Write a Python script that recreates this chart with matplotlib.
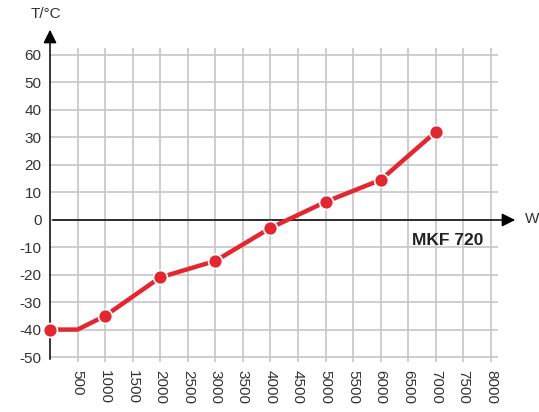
import matplotlib
matplotlib.use('Agg')
import matplotlib.pyplot as plt
import numpy as np

# power (W) vs temperature (°C)
power = [0, 500, 1000, 2000, 3000, 4000, 5000, 6000, 7000]
temp = [-40, -40, -35, -21, -15, -3, 6.5, 14.5, 32]
marked = [True, False, True, True, True, True, True, True, True]
xticks = list(range(500, 8001, 500))
yticks = list(range(-50, 61, 10))
model = 'MKF 720'

plt.rcParams['font.family'] = ['Liberation Sans', 'DejaVu Sans']
red = '#e3262f'
grey = '#c6c6c6'
txt = '#333333'

fig = plt.figure(figsize=(5.39, 4.12), dpi=100)
ax = fig.add_axes([50 / 539, 50 / 412, 448 / 539, 314 / 412])
ax.set_xlim(0, 8127)
ax.set_ylim(-51.8, 62.5)

for s in ax.spines.values():
    s.set_visible(False)

# grid
for x in xticks:
    ax.axvline(x, color=grey, lw=1.2, zorder=1)
for y in yticks:
    ax.axhline(y, color=grey, lw=1.2, zorder=1)

ax.set_xticks(xticks)
ax.set_xticklabels([str(x) for x in xticks], rotation=270, fontsize=11, color=txt)
ax.set_yticks(yticks)
ax.set_yticklabels([str(y) for y in yticks], fontsize=11, color=txt)
ax.tick_params(length=0, pad=6)

# axes with arrows
ax.annotate('', xy=(50 / 539, 385 / 412), xycoords='figure fraction',
            xytext=(50 / 539, 50 / 412),
            arrowprops=dict(arrowstyle='-|>', color='black', lw=1.1, mutation_scale=20))
ax.annotate('', xy=(518 / 539, 192 / 412), xycoords='figure fraction',
            xytext=(50 / 539, 192 / 412),
            arrowprops=dict(arrowstyle='-|>', color='black', lw=1.1, mutation_scale=20))
fig.text(31 / 539, 398 / 412, 'T/°C', fontsize=11, color=txt, ha='left', va='center')
fig.text(525 / 539, 193 / 412, 'W', fontsize=11, color=txt, ha='left', va='center')

# curve
ax.plot(power, temp, color=red, lw=3.2, zorder=3, clip_on=False, solid_capstyle='round')
px = [p for p, m in zip(power, marked) if m]
pt = [t for t, m in zip(temp, marked) if m]
ax.plot(px, pt, 'o', color=red, ms=10, mec='white', mew=1.2, zorder=4, clip_on=False)

ax.text(7855, -7.5, model, fontsize=12.5, fontweight='bold', color='#222222', ha='right', va='center')

fig.savefig('out.png', dpi=100)
